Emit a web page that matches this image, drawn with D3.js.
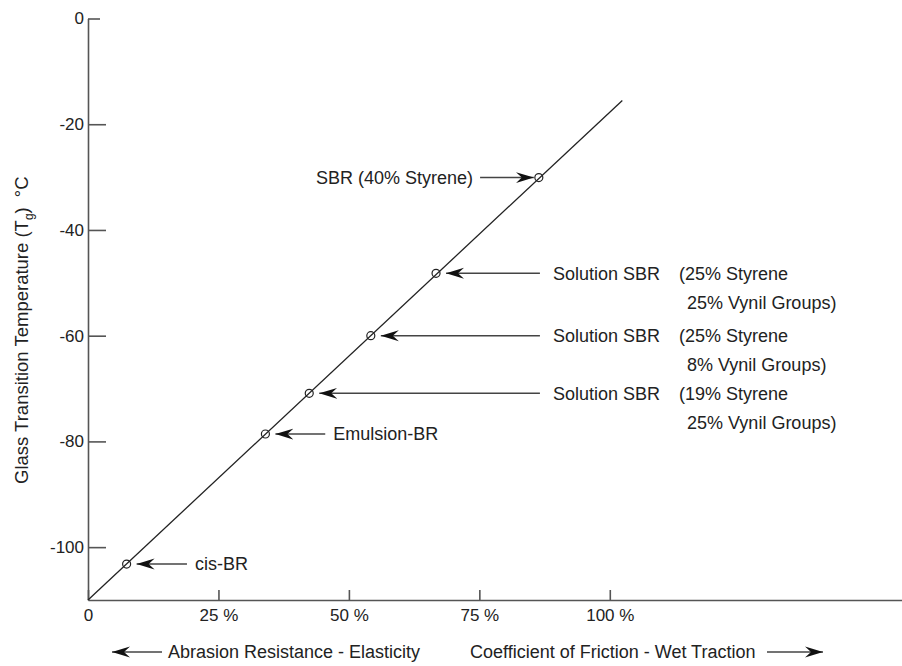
<!DOCTYPE html>
<html>
<head>
<meta charset="utf-8">
<script src="https://cdn.jsdelivr.net/npm/d3@7"></script>
<style>
  body { margin: 0; background: #fff; }
  text { font-family: "Liberation Sans", Arial, sans-serif; fill: #222; }
</style>
</head>
<body>
<main></main>
<script>
// Rubbers on the Tg line
const names   = ["cis-BR", "Emulsion-BR", "Solution SBR", "Solution SBR", "Solution SBR", "SBR (40% Styrene)"];
const detail1 = ["", "", "(19% Styrene", "(25% Styrene", "(25% Styrene", ""];
const detail2 = ["", "", "25% Vynil Groups)", "8% Vynil Groups)", "25% Vynil Groups)", ""];
const friction = [7.4, 34.0, 42.4, 54.2, 66.7, 86.4];         // % along x
const tg       = [-103.2, -78.6, -70.9, -60.0, -48.2, -30.1];  // °C

// the trend line end points
const lineX = [0, 102.4];
const lineY = [-110, -15.5];

const xTicks = [0, 25, 50, 75, 100];
const xTickLabels = ["0", "25 %", "50 %", "75 %", "100 %"];
const yTicks = [0, -20, -40, -60, -80, -100];
const yTickLabels = ["0", "-20", "-40", "-60", "-80", "-100"];

// where each label starts (in x units); last one is right aligned, arrow points right
const labelAt = [20.5, 47.0, 89.1, 89.1, 89.1, 73.8];

const W = 902, H = 666;
const svg = d3.select("main").append("svg")
              .attr("width", W)
              .attr("height", H);

const x = d3.scaleLinear().domain([0, 156]).range([88, 902]);
const y = d3.scaleLinear().domain([-110, 0]).range([600, 18.5]);

// arrow head marker
svg.append("defs").append("marker")
   .attr("id", "head")
   .attr("viewBox", "-18 -6 19 12")
   .attr("markerWidth", 19).attr("markerHeight", 12)
   .attr("markerUnits", "userSpaceOnUse")
   .attr("refX", 0).attr("refY", 0)
   .attr("orient", "auto")
   .append("path")
   .attr("d", "M0,0 L-18,-5.5 L-12,0 L-18,5.5 Z")
   .attr("fill", "#111");

// axes
const xAxis = svg.append("g").attr("transform", "translate(0,600)")
  .call(d3.axisBottom(x).tickValues(xTicks)
          .tickFormat((d, i) => xTickLabels[i])
          .tickSizeInner(-10).tickSizeOuter(0).tickPadding(9));

const yAxis = svg.append("g").attr("transform", "translate(88,0)")
  .call(d3.axisLeft(y).tickValues(yTicks)
          .tickFormat((d, i) => yTickLabels[i])
          .tickSizeInner(-18).tickSizeOuter(0).tickPadding(4));

[xAxis, yAxis].forEach(a => {
  a.select(".domain").attr("stroke", "#555").attr("stroke-width", 1.6);
  a.selectAll(".tick line").attr("stroke", "#555").attr("stroke-width", 1.6);
  a.selectAll(".tick text").attr("font-size", 17).attr("fill", "#222")
   .attr("font-family", "Liberation Sans, Arial, sans-serif");
});
yAxis.selectAll(".tick").filter(d => d === 0).select("line").attr("x2", 12);

// trend line
svg.append("line")
   .attr("x1", x(lineX[0])).attr("y1", y(lineY[0]))
   .attr("x2", x(lineX[1])).attr("y2", y(lineY[1]))
   .attr("stroke", "#222").attr("stroke-width", 1.3);

const pts = names.map((n, i) => ({ name: n, d1: detail1[i], d2: detail2[i],
                                   fx: friction[i], tg: tg[i], lx: labelAt[i] }));

svg.append("g").selectAll("circle")
   .data(pts).enter().append("circle")
   .attr("cx", d => x(d.fx))
   .attr("cy", d => y(d.tg))
   .attr("r", 4)
   .attr("fill", "none")
   .attr("stroke", "#222")
   .attr("stroke-width", 1.2);

// arrows
svg.append("g").selectAll("line")
   .data(pts).enter().append("line")
   .attr("x1", (d, i) => i === 5 ? x(d.lx) + 7 : x(d.lx) - (d.d1 ? 13 : 8))
   .attr("x2", (d, i) => i === 5 ? x(d.fx) - 5 : x(d.fx) + 10)
   .attr("y1", d => y(d.tg))
   .attr("y2", d => y(d.tg))
   .attr("stroke", "#444").attr("stroke-width", 1.5)
   .attr("marker-end", "url(#head)");

// labels
svg.append("g").selectAll("text")
   .data(pts).enter().append("text")
   .attr("font-size", 18)
   .attr("x", d => x(d.lx))
   .attr("y", d => y(d.tg))
   .attr("dy", "0.35em")
   .attr("text-anchor", (d, i) => i === 5 ? "end" : "start")
   .text(d => d.name);

const extra = pts.filter(d => d.d1);
svg.append("g").selectAll("text.d1")
   .data(extra).enter().append("text")
   .attr("font-size", 18)
   .attr("x", 679).attr("y", d => y(d.tg)).attr("dy", "0.35em")
   .text(d => d.d1);
svg.append("g").selectAll("text.d2")
   .data(extra).enter().append("text")
   .attr("font-size", 18)
   .attr("x", 687).attr("y", d => y(d.tg) + 29).attr("dy", "0.35em")
   .text(d => d.d2);

// y axis title
const yt = svg.append("text")
   .attr("transform", "translate(28,484) rotate(-90)")
   .attr("font-size", 18.5);
yt.append("tspan").text("Glass Transition Temperature (T");
yt.append("tspan").attr("font-size", 12).attr("dy", 5).text("g");
yt.append("tspan").attr("dy", -5).text(")");
yt.append("tspan").attr("dx", 10).text("°C");

// bottom direction captions
svg.append("line").attr("x1", 162).attr("x2", 112).attr("y1", 652).attr("y2", 652)
   .attr("stroke", "#444").attr("stroke-width", 1.5).attr("marker-end", "url(#head)");
svg.append("text").attr("x", 168).attr("y", 652).attr("dy", "0.35em")
   .attr("font-size", 18).text("Abrasion Resistance - Elasticity");

svg.append("text").attr("x", 470).attr("y", 652).attr("dy", "0.35em")
   .attr("font-size", 18).text("Coefficient of Friction - Wet Traction");
svg.append("line").attr("x1", 767).attr("x2", 823).attr("y1", 652).attr("y2", 652)
   .attr("stroke", "#444").attr("stroke-width", 1.5).attr("marker-end", "url(#head)");
</script>
</body>
</html>
